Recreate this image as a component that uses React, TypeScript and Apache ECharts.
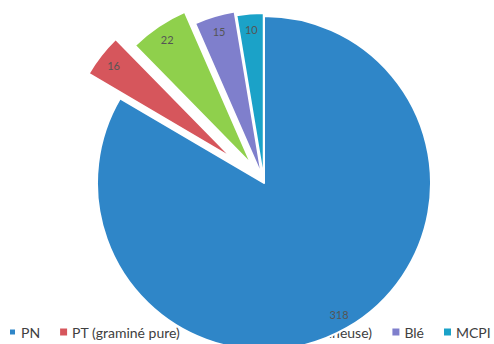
import React, { useEffect, useRef } from "react";
import * as echarts from "echarts";

const categories = ["PN", "PT (graminé pure)", "PT (graminé/légumineuse)", "Blé", "MCPI"];
const values = [318, 16, 22, 15, 10];
const colors = ["#2F86C8", "#D6565C", "#8FD04C", "#7F7FCC", "#1BA2C8"];
const explode = [0, 40, 22, 7, 3];

export default function App() {
  const ref = useRef<HTMLDivElement>(null);
  useEffect(() => {
    if (!ref.current) return;
    const chart = echarts.init(ref.current, undefined, { renderer: "svg" });
    const center = [264, 183];
    const R = 167;
    const series: any[] = [];
    categories.forEach((_, i) => {
      const data = categories.map((name, j) => ({
        name,
        value: values[j],
        selected: j === i && explode[i] > 0,
        itemStyle:
          j === i
            ? { color: colors[j], borderColor: "#ffffff", borderWidth: 2 }
            : { color: "rgba(0,0,0,0)", borderWidth: 0 },
        label: { show: false },
      }));
      series.push({
        type: "pie",
        z: 3,
        silent: true,
        center,
        radius: [0, R],
        startAngle: 90,
        clockwise: true,
        selectedMode: "single",
        selectedOffset: explode[i],
        avoidLabelOverlap: false,
        emphasis: { disabled: true },
        labelLine: { show: false },
        data,
      });
    });
    categories.forEach((_, i) => {
      const data = categories.map((name, j) => ({
        name,
        value: values[j],
        selected: j === i && explode[i] > 0,
        itemStyle: { color: "rgba(0,0,0,0)", borderWidth: 0 },
        label: {
          show: j === i,
          position: "inside",
          formatter: "{c}",
          color: "#555555",
          fontSize: 11,
          fontFamily: "Lato",
        },
      }));
      series.push({
        type: "pie",
        z: 4,
        silent: true,
        center,
        radius: [R - 38, R],
        startAngle: 90,
        clockwise: true,
        selectedMode: "single",
        selectedOffset: explode[i],
        avoidLabelOverlap: false,
        emphasis: { disabled: true },
        labelLine: { show: false },
        data,
      });
    });
    chart.setOption({
      animation: false,
      backgroundColor: "#ffffff",
      legend: {
        z: 1,
        left: 8,
        top: 325,
        width: 900,
        padding: 0,
        itemGap: 20,
        itemWidth: 7,
        itemHeight: 7,
        icon: "rect",
        textStyle: { fontSize: 14, color: "#404040", fontFamily: "Lato" },
        data: categories.map((name, i) => ({ name, itemStyle: { color: colors[i] } })),
      },
      series,
    });
    return () => chart.dispose();
  }, []);
  return (
    <div
      ref={ref}
      style={{ position: "fixed", left: 0, top: 0, width: 494, height: 344, background: "#fff" }}
    />
  );
}
